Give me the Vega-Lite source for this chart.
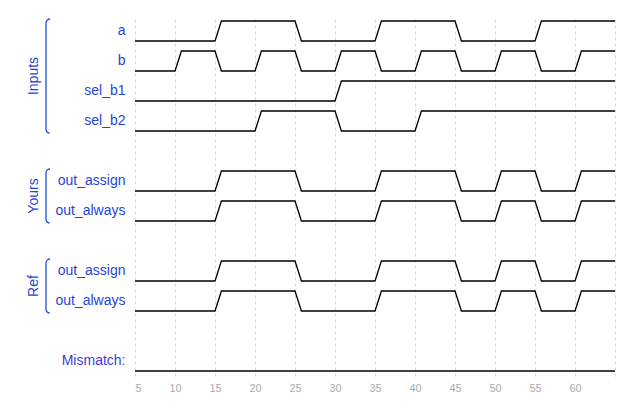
{
  "$schema": "https://vega.github.io/schema/vega-lite/v6.json",
  "width": 480,
  "height": 360,
  "autosize": {"type": "none"},
  "padding": {"left": 135, "top": 16, "right": 26, "bottom": 32},
  "background": "white",
  "config": {"view": {"stroke": null}, "font": "Liberation Sans"},
  "resolve": {"scale": {"y": "independent"}, "axis": {"y": "independent"}},
  "layer": [
    {
      "data": {"values": [
        {"sig":"a","t":5,"v":0},{"sig":"a","t":15,"v":0},{"sig":"a","t":15.8,"v":1},{"sig":"a","t":25,"v":1},{"sig":"a","t":25.8,"v":0},{"sig":"a","t":35,"v":0},{"sig":"a","t":35.8,"v":1},{"sig":"a","t":45,"v":1},{"sig":"a","t":45.8,"v":0},{"sig":"a","t":55,"v":0},{"sig":"a","t":55.8,"v":1},{"sig":"a","t":65,"v":1},
        {"sig":"b","t":5,"v":0},{"sig":"b","t":10,"v":0},{"sig":"b","t":10.8,"v":1},{"sig":"b","t":15,"v":1},{"sig":"b","t":15.8,"v":0},{"sig":"b","t":20,"v":0},{"sig":"b","t":20.8,"v":1},{"sig":"b","t":25,"v":1},{"sig":"b","t":25.8,"v":0},{"sig":"b","t":30,"v":0},{"sig":"b","t":30.8,"v":1},{"sig":"b","t":35,"v":1},{"sig":"b","t":35.8,"v":0},{"sig":"b","t":40,"v":0},{"sig":"b","t":40.8,"v":1},{"sig":"b","t":45,"v":1},{"sig":"b","t":45.8,"v":0},{"sig":"b","t":50,"v":0},{"sig":"b","t":50.8,"v":1},{"sig":"b","t":55,"v":1},{"sig":"b","t":55.8,"v":0},{"sig":"b","t":60,"v":0},{"sig":"b","t":60.8,"v":1},{"sig":"b","t":65,"v":1},
        {"sig":"sel_b1","t":5,"v":0},{"sig":"sel_b1","t":30,"v":0},{"sig":"sel_b1","t":30.8,"v":1},{"sig":"sel_b1","t":65,"v":1},
        {"sig":"sel_b2","t":5,"v":0},{"sig":"sel_b2","t":20,"v":0},{"sig":"sel_b2","t":20.8,"v":1},{"sig":"sel_b2","t":30,"v":1},{"sig":"sel_b2","t":30.8,"v":0},{"sig":"sel_b2","t":40,"v":0},{"sig":"sel_b2","t":40.8,"v":1},{"sig":"sel_b2","t":65,"v":1},
        {"sig":"y_assign","t":5,"v":0},{"sig":"y_assign","t":15,"v":0},{"sig":"y_assign","t":15.8,"v":1},{"sig":"y_assign","t":25,"v":1},{"sig":"y_assign","t":25.8,"v":0},{"sig":"y_assign","t":35,"v":0},{"sig":"y_assign","t":35.8,"v":1},{"sig":"y_assign","t":45,"v":1},{"sig":"y_assign","t":45.8,"v":0},{"sig":"y_assign","t":50,"v":0},{"sig":"y_assign","t":50.8,"v":1},{"sig":"y_assign","t":55,"v":1},{"sig":"y_assign","t":55.8,"v":0},{"sig":"y_assign","t":60,"v":0},{"sig":"y_assign","t":60.8,"v":1},{"sig":"y_assign","t":65,"v":1},
        {"sig":"y_always","t":5,"v":0},{"sig":"y_always","t":15,"v":0},{"sig":"y_always","t":15.8,"v":1},{"sig":"y_always","t":25,"v":1},{"sig":"y_always","t":25.8,"v":0},{"sig":"y_always","t":35,"v":0},{"sig":"y_always","t":35.8,"v":1},{"sig":"y_always","t":45,"v":1},{"sig":"y_always","t":45.8,"v":0},{"sig":"y_always","t":50,"v":0},{"sig":"y_always","t":50.8,"v":1},{"sig":"y_always","t":55,"v":1},{"sig":"y_always","t":55.8,"v":0},{"sig":"y_always","t":60,"v":0},{"sig":"y_always","t":60.8,"v":1},{"sig":"y_always","t":65,"v":1},
        {"sig":"r_assign","t":5,"v":0},{"sig":"r_assign","t":15,"v":0},{"sig":"r_assign","t":15.8,"v":1},{"sig":"r_assign","t":25,"v":1},{"sig":"r_assign","t":25.8,"v":0},{"sig":"r_assign","t":35,"v":0},{"sig":"r_assign","t":35.8,"v":1},{"sig":"r_assign","t":45,"v":1},{"sig":"r_assign","t":45.8,"v":0},{"sig":"r_assign","t":50,"v":0},{"sig":"r_assign","t":50.8,"v":1},{"sig":"r_assign","t":55,"v":1},{"sig":"r_assign","t":55.8,"v":0},{"sig":"r_assign","t":60,"v":0},{"sig":"r_assign","t":60.8,"v":1},{"sig":"r_assign","t":65,"v":1},
        {"sig":"r_always","t":5,"v":0},{"sig":"r_always","t":15,"v":0},{"sig":"r_always","t":15.8,"v":1},{"sig":"r_always","t":25,"v":1},{"sig":"r_always","t":25.8,"v":0},{"sig":"r_always","t":35,"v":0},{"sig":"r_always","t":35.8,"v":1},{"sig":"r_always","t":45,"v":1},{"sig":"r_always","t":45.8,"v":0},{"sig":"r_always","t":50,"v":0},{"sig":"r_always","t":50.8,"v":1},{"sig":"r_always","t":55,"v":1},{"sig":"r_always","t":55.8,"v":0},{"sig":"r_always","t":60,"v":0},{"sig":"r_always","t":60.8,"v":1},{"sig":"r_always","t":65,"v":1},
        {"sig":"mismatch","t":5,"v":0},{"sig":"mismatch","t":65,"v":0}
      ]},
      "mark": {"type": "line", "color": "#000000", "strokeWidth": 1.3},
      "encoding": {
        "x": {
          "field": "t", "type": "quantitative",
          "scale": {"domain": [5, 65], "nice": false, "zero": false},
          "axis": {
            "values": [5, 10, 15, 20, 25, 30, 35, 40, 45, 50, 55, 60, 65],
            "tickCount": 30,
            "labelExpr": "datum.value == 65 ? '' : datum.label",
            "labelOverlap": false,
            "grid": true, "gridDash": [3, 3], "gridColor": "#d9d9d9", "gridWidth": 1,
            "ticks": false, "domain": false,
            "labelColor": "#aaaaaa", "labelFontSize": 11, "labelPadding": 6,
            "labelFont": "Liberation Sans", "title": null
          }
        },
        "y": {
          "field": "sig", "type": "nominal",
          "scale": {"type": "band", "domain": ["a", "b", "sel_b1", "sel_b2", "gap1", "y_assign", "y_always", "gap2", "r_assign", "r_always", "gap3", "mismatch"], "paddingInner": 0, "paddingOuter": 0},
          "axis": {
            "labelExpr": "datum.value == 'y_assign' || datum.value == 'r_assign' ? 'out_assign' : datum.value == 'y_always' || datum.value == 'r_always' ? 'out_always' : datum.value == 'mismatch' ? 'Mismatch:' : indexof(datum.value, 'gap') == 0 ? '' : datum.value",
            "labelColor": {"expr": "datum.value == 'mismatch' ? '#3d3dd6' : '#1f45d8'"},
            "labelFontSize": 14, "labelFont": "Liberation Sans", "labelPadding": 10,
            "ticks": false, "domain": false, "grid": false, "title": null
          }
        },
        "yOffset": {"field": "v", "type": "quantitative", "scale": {"domain": [0, 1], "range": [25, 5]}},
        "detail": {"field": "sig", "type": "nominal"},
        "order": {"field": "t", "type": "quantitative"}
      }
    },
    {
      "data": {"values": [{}]},
      "mark": {"type": "rect", "fillOpacity": 0, "stroke": "#1f4fd8", "strokeWidth": 1.3, "cornerRadius": 4, "strokeDash": [118.57, 118.57], "strokeDashOffset": 118.57},
      "encoding": {
        "x": {"datum": -6.125, "type": "quantitative", "scale": {"domain": [5, 65], "nice": false, "zero": false}, "title": null},
        "x2": {"datum": -5.125},
        "y": {"datum": 0.1, "type": "quantitative", "scale": {"domain": [0, 12], "reverse": true, "nice": false, "zero": false}, "axis": null},
        "y2": {"datum": 3.9}
      }
    },
    {
      "data": {"values": [{}]},
      "mark": {"type": "rect", "fillOpacity": 0, "stroke": "#1f4fd8", "strokeWidth": 1.3, "cornerRadius": 4, "strokeDash": [58.57, 58.57], "strokeDashOffset": 58.57},
      "encoding": {
        "x": {"datum": -6.125, "type": "quantitative", "scale": {"domain": [5, 65], "nice": false, "zero": false}, "title": null},
        "x2": {"datum": -5.125},
        "y": {"datum": 5.1, "type": "quantitative", "scale": {"domain": [0, 12], "reverse": true, "nice": false, "zero": false}, "axis": null},
        "y2": {"datum": 6.9}
      }
    },
    {
      "data": {"values": [{}]},
      "mark": {"type": "rect", "fillOpacity": 0, "stroke": "#1f4fd8", "strokeWidth": 1.3, "cornerRadius": 4, "strokeDash": [58.57, 58.57], "strokeDashOffset": 58.57},
      "encoding": {
        "x": {"datum": -6.125, "type": "quantitative", "scale": {"domain": [5, 65], "nice": false, "zero": false}, "title": null},
        "x2": {"datum": -5.125},
        "y": {"datum": 8.1, "type": "quantitative", "scale": {"domain": [0, 12], "reverse": true, "nice": false, "zero": false}, "axis": null},
        "y2": {"datum": 9.9}
      }
    },
    {
      "data": {"values": [{"group": "Inputs", "mid": 2}, {"group": "Yours", "mid": 6}, {"group": "Ref", "mid": 9}]},
      "mark": {"type": "text", "angle": 270, "align": "center", "baseline": "middle", "fontSize": 14, "font": "Liberation Sans", "color": "#1f45d8"},
      "encoding": {
        "x": {"datum": -7.625, "type": "quantitative", "scale": {"domain": [5, 65], "nice": false, "zero": false}, "title": null},
        "y": {"field": "mid", "type": "quantitative", "scale": {"domain": [0, 12], "reverse": true, "nice": false, "zero": false}, "axis": null},
        "text": {"field": "group"}
      }
    }
  ]
}
